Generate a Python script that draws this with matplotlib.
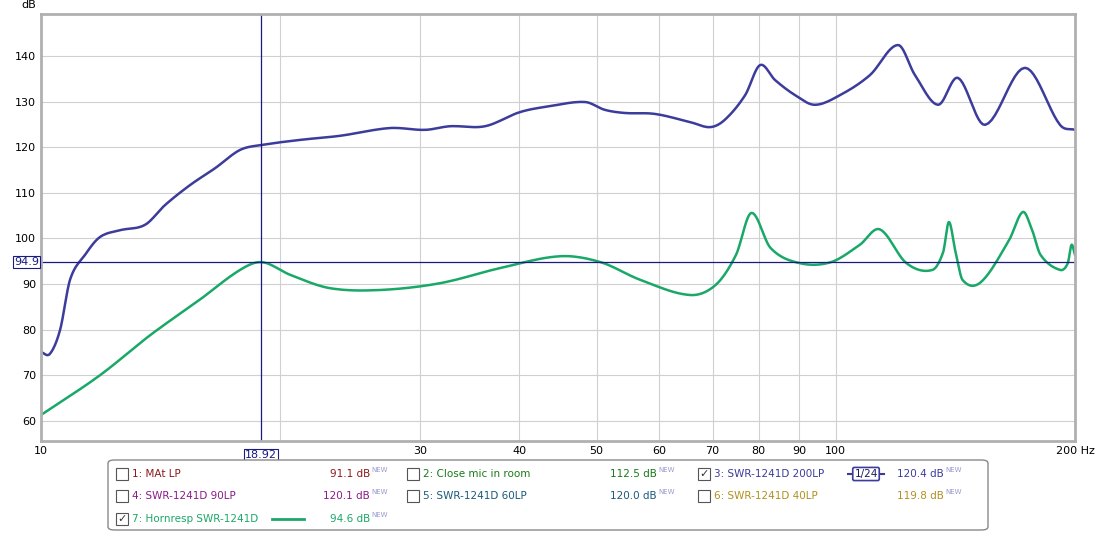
import numpy as np
import matplotlib
matplotlib.use("Agg")
import matplotlib.pyplot as plt
from matplotlib.patches import FancyBboxPatch, Rectangle

blue_f = [10, 10.26, 10.57, 10.88, 11.36, 11.86, 12.57, 13.52, 14.32, 15.40, 16.56, 17.80, 18.97, 21.18, 23.78, 27.49,
          30.42, 32.71, 36.2, 40.06, 43.7, 48.4, 51.2, 54.3, 59.2, 65.6, 69.5, 72.5, 76.9, 80.3, 83.9, 88.9, 94.1,
          101.2, 110.4, 119.8, 125.8, 134.5, 142.5, 154.1, 173.0, 191.5, 200]
blue_db = [75.1, 74.7, 80, 91, 96.4, 100.3, 101.8, 103, 107.3, 111.7, 115.4, 119.4, 120.5, 121.6, 122.5, 124.2,
           123.8, 124.6, 124.6, 127.7, 129, 129.9, 128.2, 127.5, 127.3, 125.5, 124.4, 126, 131.4, 138, 134.7, 131.4, 129.3,
           131.4, 135.8, 142.4, 135.8, 129.3, 135.2, 124.9, 137.4, 124.9, 123.8]
green_f = [10, 11.86, 13.72, 15.82, 17.8, 18.97, 20.6, 23.1, 26.7, 31.8, 37.8, 45.0, 50.6, 56.8, 65.6, 70.6, 74.9,
           78.3, 82.8, 90.0, 98.6, 107.2, 113.6, 122.7, 132.3, 136.5, 138.8, 141.5, 144.4, 152.2, 165.2, 171.9, 176.5,
           181, 191.5, 195.8, 198, 200]
green_db = [61.3, 70, 78.8, 86.5, 93.1, 94.8, 92, 89.1, 88.7, 90.2, 93.5, 96.1, 94.8, 90.9, 87.6, 89.8, 96.4,
            105.6, 97.9, 94.6, 94.8, 98.6, 102, 94.6, 93.1, 97, 103.6, 97, 90.9, 90.4, 99.6, 105.8, 102,
            96.4, 93.1, 94.5, 98.6, 96.4]
x_ticks = [10, 20, 30, 40, 50, 60, 70, 80, 90, 100, 200]
x_labels = ["10", "", "30", "40", "50", "60", "70", "80", "90", "100", "200 Hz"]
y_ticks = [60, 70, 80, 90, 100, 110, 120, 130, 140]


def smooth(f, v, n=12):
    # Catmull-Rom rendering in log-frequency space
    x = np.log10(f); y = np.asarray(v, float)
    xs, ys = [], []
    for i in range(len(x) - 1):
        x0, x1 = x[max(i-1, 0)], x[i]; x2, x3 = x[i+1], x[min(i+2, len(x)-1)]
        y0, y1 = y[max(i-1, 0)], y[i]; y2, y3 = y[i+1], y[min(i+2, len(y)-1)]
        t = np.linspace(0, 1, n, endpoint=False)
        m1 = (y2 - y0) / (x2 - x0) * (x2 - x1) if x2 != x0 else 0
        m2 = (y3 - y1) / (x3 - x1) * (x2 - x1) if x3 != x1 else 0
        h00 = 2*t**3 - 3*t**2 + 1; h10 = t**3 - 2*t**2 + t; h01 = -2*t**3 + 3*t**2; h11 = t**3 - t**2
        xs.append(x1 + t*(x2 - x1)); ys.append(h00*y1 + h10*m1 + h01*y2 + h11*m2)
    xs.append([x[-1]]); ys.append([y[-1]])
    return 10**np.concatenate(xs), np.concatenate(ys)


W, H = 1095, 534
fig = plt.figure(figsize=(W/100, H/100), dpi=100)
fig.patch.set_facecolor("white")
ax = fig.add_axes([41/W, 1-441/H, 1034/W, 427/H])
ax.set_xscale("log")
ax.set_xlim(10, 200)
ax.set_ylim(55.6, 149.2)
ax.set_xticks(x_ticks)
ax.set_xticklabels(x_labels, fontsize=8)
ax.xaxis.set_minor_locator(matplotlib.ticker.NullLocator())
ax.set_yticks(y_ticks)
ax.tick_params(labelsize=8, length=0)
ax.grid(True, color="#d0d0d0", lw=0.8)
for s in ax.spines.values():
    s.set_color("#b0b0b0"); s.set_linewidth(2)
bx, by = smooth(blue_f, blue_db)
gx, gy = smooth(green_f, green_db)
ax.plot(bx, by, color="#3c3c9c", lw=1.8)
ax.plot(gx, gy, color="#1aa868", lw=1.8)
ax.axvline(18.92, color="#1a1a80", lw=0.9)
ax.axhline(94.9, color="#1a1a80", lw=0.9)
ax.text(-0.005, 1.01, "dB", transform=ax.transAxes, fontsize=8, ha="right", va="bottom")
ax.text(18.92, 53.6, "18.92", fontsize=8, ha="center", va="top", color="#1a1a80",
        bbox=dict(boxstyle="square,pad=0.1", fc="white", ec="#1a1a80", lw=0.8))
ax.text(-0.002, 94.9, "94.9", transform=ax.get_yaxis_transform(), fontsize=8, ha="right", va="center",
        color="#1a1a80", bbox=dict(boxstyle="square,pad=0.1", fc="white", ec="#1a1a80", lw=0.8))

# legend panel
lx0, ly0, lx1, ly1 = 108, 460, 988, 530
fig.patches.append(FancyBboxPatch((lx0/W, 1-ly1/H), (lx1-lx0)/W, (ly1-ly0)/H, boxstyle="round,pad=0,rounding_size=0.006",
                                  transform=fig.transFigure, fc="white", ec="#888888", lw=1))
rows = [474, 496, 519]
items = [
    (0, 0, "1: MAt LP", "91.1 dB", "#8b1a1a", False),
    (0, 1, "2: Close mic in room", "112.5 dB", "#1a7a1a", False),
    (0, 2, "3: SWR-1241D 200LP", "120.4 dB", "#3c3c9c", True),
    (1, 0, "4: SWR-1241D 90LP", "120.1 dB", "#8b1a8b", False),
    (1, 1, "5: SWR-1241D 60LP", "120.0 dB", "#1a5a7a", False),
    (1, 2, "6: SWR-1241D 40LP", "119.8 dB", "#b09020", False),
    (2, 0, "7: Hornresp SWR-1241D", "94.6 dB", "#1aa868", True),
]
colx = [116, 407, 698]
valx = [370, 657, 944]
for r, c, name, val, col, chk in items:
    y = 1 - rows[r]/H
    x = colx[c]
    fig.patches.append(Rectangle((x/W, y-6/H), 12/W, 12/H, transform=fig.transFigure, fc="white", ec="#555555", lw=0.8))
    if chk:
        fig.text((x+6)/W, y, "✓", fontsize=8, ha="center", va="center", color="#333333")
    fig.text((x+16)/W, y, name, fontsize=7.5, ha="left", va="center", color=col)
    vx = valx[c]
    fig.text(vx/W, y, val, fontsize=7.5, ha="right", va="center", color=col)
    fig.text((vx+1)/W, y+4/H, "NEW", fontsize=5, ha="left", va="center", color="#9a9ad0")
fig.add_artist(plt.Line2D([272/W, 304/W], [1-519/H]*2, color="#1aa868", lw=2, transform=fig.transFigure))
fig.add_artist(plt.Line2D([848/W, 884/W], [1-474/H]*2, color="#3c3c9c", lw=1.5, transform=fig.transFigure))
fig.text(866/W, 1-474/H, "1/24", fontsize=7.5, ha="center", va="center", color="#1a1a60",
         bbox=dict(boxstyle="round,pad=0.15", fc="white", ec="#3c3c9c", lw=1.2))
fig.savefig("out.png", dpi=100)
